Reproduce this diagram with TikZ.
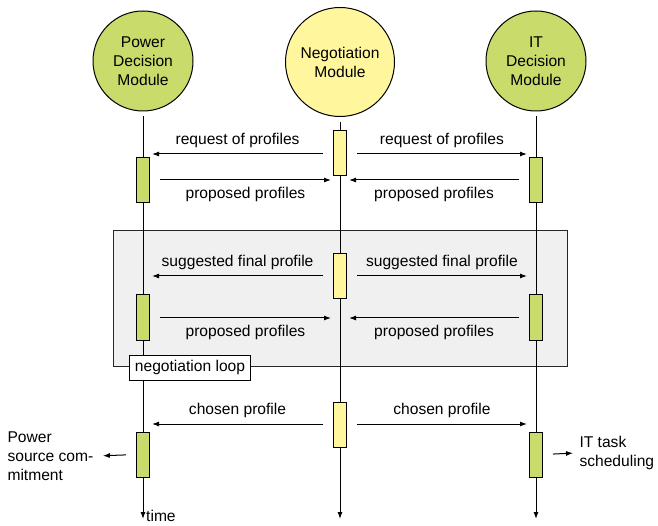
\documentclass[tikz,border=0pt]{standalone}
\usepackage{fontspec}
\setmainfont{Liberation Sans}
\usetikzlibrary{arrows.meta}
\definecolor{pg}{HTML}{C8DB6B}
\definecolor{ny}{HTML}{FFF69E}
\definecolor{lp}{HTML}{F0F0F0}

\begin{document}
\begin{tikzpicture}[x=1pt,y=-1pt,>={Latex[length=7pt,width=5pt]}]
            \tikzstyle{every node}=[font=\fontsize{15.6pt}{19pt}\selectfont]
            \tikzstyle{module}=[circle,draw,line width=1pt,align=center,inner sep=0pt]
            \tikzstyle{act}=[draw,line width=1pt,minimum width=13pt,minimum height=45pt,inner sep=0pt]
            \tikzstyle{msg}=[->,line width=1pt,shorten <=17pt,shorten >=9pt]
            \tikzstyle{up}=[pos=0.52,above=2pt]
            \tikzstyle{down}=[pos=0.52,below=3pt]
            \useasboundingbox (0,0) rectangle (658,526);
            % loop frame
            \draw[fill=lp,line width=1pt,draw=black!85] (113,231) rectangle (567,366);
            % modules
            \node[module,fill=pg,minimum size=100pt] (pdm) at (143,61) {Power\\Decision\\Module};
            \node[module,fill=ny,minimum size=109pt] (nm) at (340,62) {Negotiation\\Module};
            \node[module,fill=pg,minimum size=100pt] (itm) at (536,61) {IT\\Decision\\Module};
            % time lines
            \coordinate (pend) at (143,519);
            \coordinate (nend) at (340,519);
            \coordinate (iend) at (536,519);
            \draw[->,line width=1pt,shorten <=5pt] (pdm.south) -- (pend);
            \draw[->,line width=1pt,shorten <=5pt] (nm.south) -- (nend);
            \draw[->,line width=1pt,shorten <=5pt] (itm.south) -- (iend);
            \node[anchor=base west,inner sep=2pt] (time) at (144,521.5) {time};
            % activations
            \node[act,fill=pg] (pb1) at (143,180) {};
            \node[act,fill=pg] (pb2) at (143,317.5) {};
            \node[act,fill=pg] (pb3) at (143,454.5) {};
            \node[act,fill=ny] (nb1) at (340,153.5) {};
            \node[act,fill=ny] (nb2) at (340,276) {};
            \node[act,fill=ny] (nb3) at (340,424.5) {};
            \node[act,fill=pg] (ib1) at (536,180) {};
            \node[act,fill=pg] (ib2) at (536,317.5) {};
            \node[act,fill=pg] (ib3) at (536,454.5) {};
            % message rows
            \foreach \r/\y in {1/154,2/180,3/276,4/318,5/424}{
              \coordinate (p\r) at (143,\y);
              \coordinate (n\r) at (340,\y);
              \coordinate (i\r) at (536,\y);
            }
            \draw[msg] (n1) -- (p1) node[up]{request of profiles};
            \draw[msg] (n1) -- (i1) node[up]{request of profiles};
            \draw[msg] (p2) -- (n2) node[down]{proposed profiles};
            \draw[msg] (i2) -- (n2) node[down]{proposed profiles};
            \draw[msg] (n3) -- (p3) node[up]{suggested final profile};
            \draw[msg] (n3) -- (i3) node[up]{suggested final profile};
            \draw[msg] (p4) -- (n4) node[down]{proposed profiles};
            \draw[msg] (i4) -- (n4) node[down]{proposed profiles};
            \draw[msg] (n5) -- (p5) node[up]{chosen profile};
            \draw[msg] (n5) -- (i5) node[up]{chosen profile};
            \node[draw,fill=white,line width=1pt,inner xsep=5pt,minimum height=25pt] (loop) at (190,367.5) {negotiation loop};
            % outcomes
            \node[anchor=west,align=left] (psc) at (4,456) {Power\\source com-\\mitment};
            \node[anchor=west,align=left] (its) at (576,453) {IT task\\scheduling};
            \draw[->,line width=1pt,shorten <=10pt,shorten >=6pt] (pb3.west) -- (psc.east);
            \draw[->,line width=1pt,shorten <=10pt,shorten >=3pt] (ib3.east) -- (its.west);
\end{tikzpicture}
\end{document}
